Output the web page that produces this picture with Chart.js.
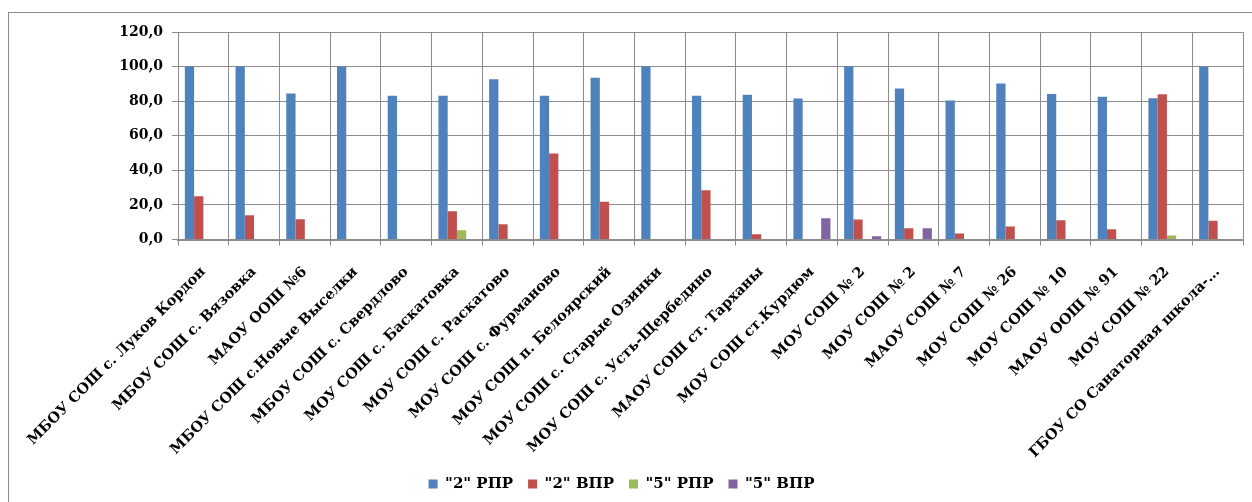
<!DOCTYPE html>
<html>
<head>
<meta charset="utf-8">
<script src="https://cdn.jsdelivr.net/npm/chart.js@4/dist/chart.umd.min.js"></script>
<style>
  html, body { margin: 0; padding: 0; background: #fff; }
  #frame {
    position: absolute; left: 8px; top: 12px; width: 1400px; height: 600px;
    border-left: 1px solid #8c8c8c; border-top: 1px solid #8c8c8c;
  }
  #wrap { position: absolute; left: 0; top: 0; width: 1252px; height: 502px; }
</style>
</head>
<body>
<div id="frame"></div>
<div id="wrap"><canvas id="chart" width="1252" height="502"></canvas></div>
<script>
const schools = [
  "МБОУ СОШ с. Луков Кордон",
  "МБОУ СОШ с. Вязовка",
  "МАОУ ООШ №6",
  "МБОУ СОШ с.Новые Выселки",
  "МБОУ СОШ с. Свердлово",
  "МОУ СОШ с. Баскатовка",
  "МОУ СОШ с. Раскатово",
  "МОУ СОШ с. Фурманово",
  "МОУ СОШ п. Белоярский",
  "МОУ СОШ с. Старые Озинки",
  "МОУ СОШ с. Усть-Щербедино",
  "МАОУ СОШ ст. Тарханы",
  "МОУ СОШ ст.Курдюм",
  "МОУ СОШ № 2",
  "МОУ СОШ № 2",
  "МАОУ СОШ № 7",
  "МОУ СОШ № 26",
  "МОУ СОШ № 10",
  "МАОУ ООШ № 91",
  "МОУ СОШ № 22",
  "ГБОУ СО Санаторная школа-…"
];

const twoRpr = [100, 100, 84.4, 100, 83.1, 83.1, 92.7, 83.1, 93.5, 100, 83.1, 83.7, 81.5, 100, 87.3, 80.4, 90.2, 84.2, 82.5, 81.7, 100];
const twoVpr = [25, 14, 11.7, 0, 0, 16.3, 8.8, 49.8, 21.9, 0, 28.5, 3.1, 0, 11.5, 6.5, 3.5, 7.5, 11.2, 6, 84, 10.8];
const fiveRpr = [0, 0, 0, 0, 0, 5.4, 0, 0, 0, 0, 0, 0, 0, 0, 0, 0, 0, 0, 0, 2.3, 0];
const fiveVpr = [0, 0, 0, 0, 0, 0, 0, 0, 0, 0, 0, 0, 12.3, 1.9, 6.5, 0, 0, 0, 0, 0, 0];

const seriesNames = ['"2" РПР', '"2" ВПР', '"5" РПР', '"5" ВПР'];
const seriesColors = ["#4F81BD", "#C0504D", "#9BBB59", "#8064A2"];

const serif = "'DejaVu Serif', 'Liberation Serif', serif";
const gridColor = "#8c8c8c";

const datasets = [twoRpr, twoVpr, fiveRpr, fiveVpr].map((vals, i) => ({
  label: seriesNames[i],
  data: vals,
  backgroundColor: seriesColors[i],
  borderWidth: 0,
  categoryPercentage: 0.73,
  barPercentage: 1.0,
}));

new Chart(document.getElementById("chart"), {
  type: "bar",
  data: { labels: schools, datasets },
  options: {
    responsive: false,
    animation: false,
    layout: { padding: { top: 32, right: 9, bottom: 0.5, left: 0 } },
    plugins: {
      tooltip: { enabled: false },
      legend: {
        position: "bottom",
        labels: {
          boxWidth: 9,
          boxHeight: 9,
          padding: 15,
          color: "#000",
          font: { family: serif, size: 15, weight: "bold" },
        },
      },
    },
    scales: {
      x: {
        afterFit: (s) => { s.height = 222; },
        grid: { color: gridColor, lineWidth: 1, tickLength: 6, offset: true },
        border: { color: gridColor, width: 2 },
        ticks: {
          autoSkip: false,
          minRotation: 45,
          maxRotation: 45,
          padding: 18,
          color: "#000",
          font: { family: serif, size: 14.5, weight: "bold" },
        },
      },
      y: {
        min: 0,
        max: 120,
        afterFit: (s) => { s.width = 178; },
        grid: { color: gridColor, lineWidth: 1, tickLength: 6 },
        border: { color: gridColor, width: 1 },
        ticks: {
          stepSize: 20,
          padding: 9,
          color: "#000",
          font: { family: serif, size: 14, weight: "bold" },
          callback: (v) => Number(v).toFixed(1).replace(".", ","),
        },
      },
    },
  },
});
</script>
</body>
</html>
